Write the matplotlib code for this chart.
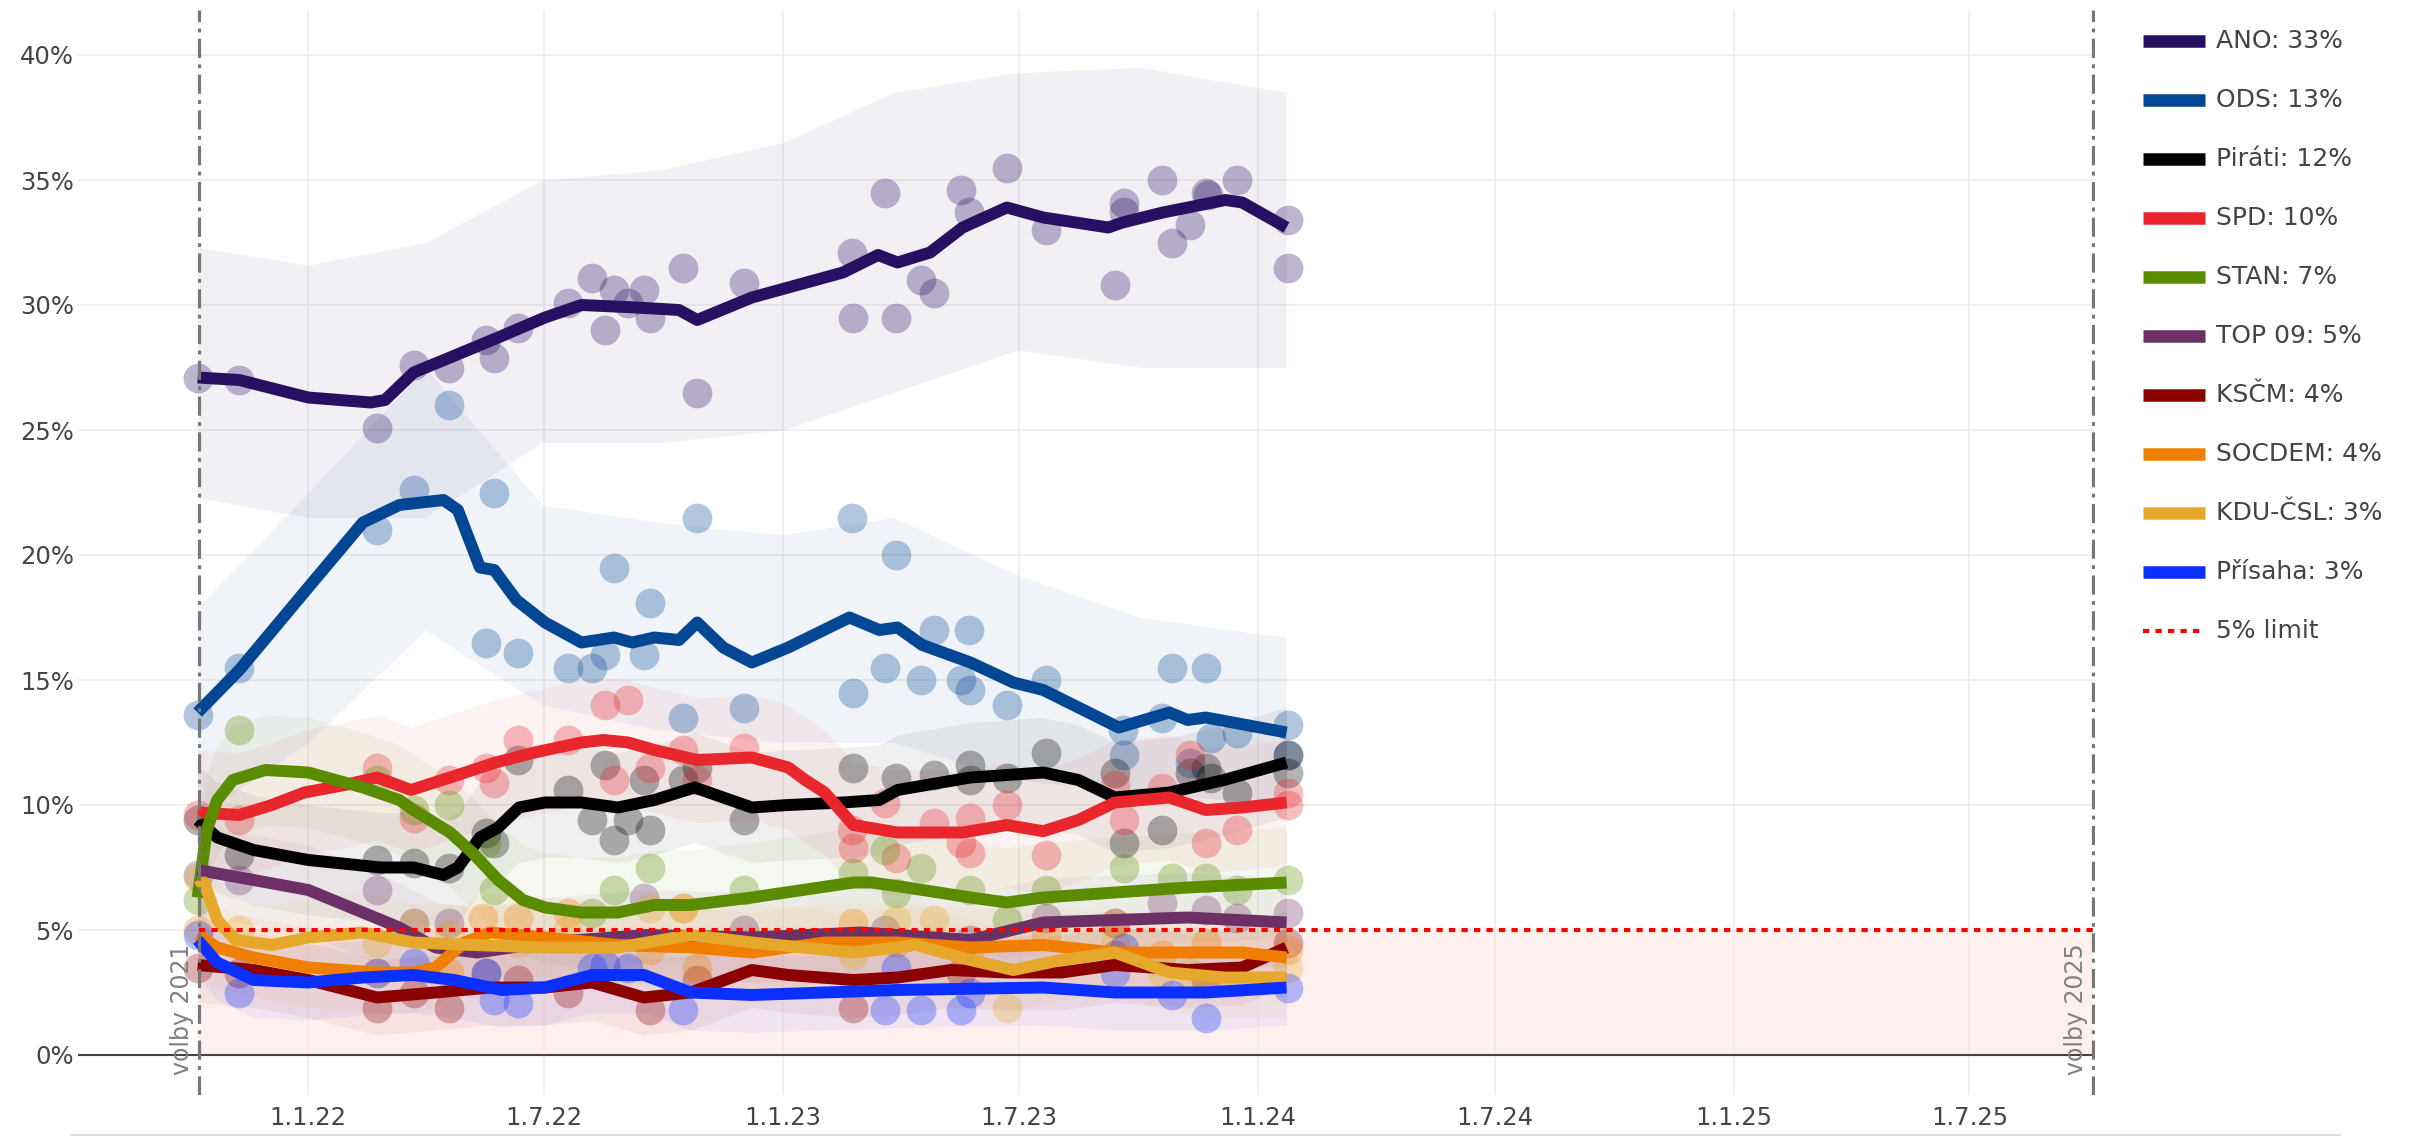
import numpy as np
import pandas as pd
import matplotlib
matplotlib.use("Agg")
import matplotlib.pyplot as plt
from matplotlib.lines import Line2D

# all x values are days since 1.1.2022
BASE = pd.Timestamp("2022-01-01")

PARTIES = ["ANO", "ODS", "Piráti", "SPD", "STAN", "TOP 09", "KSČM", "SOCDEM", "KDU-ČSL", "Přísaha"]
COLORS = ["#271061", "#034694", "#000000", "#e8262c", "#5b8c00",
          "#6c3066", "#8b0000", "#f07e00", "#e5a82a", "#0b2fff"]
LEGEND_PCT = [33, 13, 12, 10, 7, 5, 4, 4, 3, 3]

ELECTIONS = ["2021-10-09", "2025-10-04"]
ELECTION_LABELS = ["volby 2021", "volby 2025"]
TICK_DATES = ["2022-01-01", "2022-07-01", "2023-01-01", "2023-07-01",
              "2024-01-01", "2024-07-01", "2025-01-01", "2025-07-01"]
TICK_LABELS = ["1.1.22", "1.7.22", "1.1.23", "1.7.23", "1.1.24", "1.7.24", "1.1.25", "1.7.25"]
LIMIT = 5

# smoothed trend lines
ANO_T = [-85, -53, 0, 48, 59, 81, 109, 146, 182, 210, 252, 285, 299, 341, 411, 438, 453, 478,
         503, 537, 565, 615, 626, 657, 705, 718, 752]
ANO_V = [27.1, 27.0, 26.3, 26.1, 26.2, 27.3, 27.9, 28.7, 29.5, 30.0, 29.9, 29.8, 29.4, 30.3,
         31.3, 32.0, 31.7, 32.1, 33.1, 33.9, 33.5, 33.1, 33.3, 33.7, 34.2, 34.1, 33.1]
ODS_T = [-85, -53, 0, 42, 70, 104, 115, 132, 143, 160, 182, 210, 235, 249, 266, 285, 299, 319,
         341, 369, 416, 439, 453, 472, 509, 542, 565, 623, 662, 676, 690, 752]
ODS_V = [13.7, 15.4, 18.7, 21.3, 22.0, 22.2, 21.8, 19.5, 19.4, 18.2, 17.3, 16.5, 16.7, 16.5,
         16.7, 16.6, 17.3, 16.3, 15.7, 16.3, 17.5, 17.0, 17.1, 16.4, 15.7, 14.9, 14.6, 13.1,
         13.7, 13.4, 13.5, 12.9]
PIR_T = [-85, -70, -42, 0, 56, 81, 104, 115, 132, 146, 162, 182, 210, 238, 266, 297, 341, 369,
         411, 439, 453, 509, 565, 592, 620, 662, 704, 752]
PIR_V = [9.4, 8.7, 8.2, 7.8, 7.5, 7.5, 7.2, 7.5, 8.7, 9.1, 9.9, 10.1, 10.1, 9.9, 10.2, 10.7,
         9.9, 10.0, 10.1, 10.2, 10.6, 11.1, 11.3, 11.0, 10.3, 10.5, 11.0, 11.7]
SPD_T = [-85, -53, -28, -3, 28, 53, 79, 109, 144, 174, 210, 227, 246, 266, 299, 341, 369, 382,
         397, 419, 453, 503, 537, 565, 592, 620, 662, 690, 718, 752]
SPD_V = [9.7, 9.6, 10.0, 10.5, 10.8, 11.1, 10.6, 11.1, 11.7, 12.1, 12.5, 12.6, 12.5, 12.2,
         11.8, 11.9, 11.5, 11.0, 10.5, 9.2, 8.9, 8.9, 9.2, 8.95, 9.4, 10.1, 10.3, 9.8, 9.9, 10.1]
STAN_T = [-85, -78, -70, -58, -33, 0, 42, 70, 81, 109, 126, 146, 165, 182, 210, 238, 266, 294,
          341, 419, 433, 460, 509, 537, 565, 620, 676, 752]
STAN_V = [6.3, 9.0, 10.2, 11.0, 11.4, 11.3, 10.7, 10.2, 9.8, 8.9, 8.1, 7.0, 6.2, 5.9, 5.7,
          5.7, 6.0, 6.0, 6.3, 6.9, 6.9, 6.7, 6.3, 6.1, 6.3, 6.5, 6.7, 6.9]
TOP_T = [-85, -42, 0, 42, 70, 98, 130, 182, 260, 341, 425, 509, 565, 620, 676, 752]
TOP_V = [7.4, 7.0, 6.6, 5.7, 5.1, 4.3, 4.1, 4.5, 4.8, 4.7, 4.9, 4.6, 5.3, 5.4, 5.5, 5.3]
KSC_T = [-85, -42, 0, 53, 98, 140, 182, 218, 258, 294, 341, 369, 419, 453, 494, 537, 579, 620,
         676, 718, 752]
KSC_V = [3.6, 3.4, 3.0, 2.3, 2.5, 2.7, 2.7, 2.9, 2.3, 2.5, 3.4, 3.2, 3.0, 3.1, 3.4, 3.3, 3.3,
         3.6, 3.4, 3.5, 4.3]
SOC_T = [-85, -70, -42, 0, 53, 81, 98, 120, 140, 182, 238, 294, 341, 397, 453, 509, 565, 620,
         676, 718, 752]
SOC_V = [4.8, 4.3, 3.9, 3.5, 3.3, 3.3, 3.5, 4.5, 4.9, 4.7, 4.4, 4.3, 4.1, 4.5, 4.5, 4.3, 4.4,
         4.1, 4.1, 4.1, 3.9]
KDU_T = [-85, -80, -70, -56, -28, 0, 42, 81, 126, 182, 238, 294, 341, 419, 467, 509, 542, 579,
         620, 662, 704, 752]
KDU_V = [6.7, 6.9, 5.4, 4.6, 4.4, 4.7, 4.9, 4.5, 4.4, 4.3, 4.3, 4.8, 4.5, 4.1, 4.4, 3.8, 3.4,
         3.8, 4.1, 3.3, 3.1, 3.1]
PRI_T = [-85, -70, -42, 0, 42, 81, 112, 149, 182, 218, 258, 294, 341, 453, 565, 620, 690, 752]
PRI_V = [4.6, 3.7, 3.0, 2.9, 3.1, 3.2, 3.0, 2.6, 2.7, 3.2, 3.2, 2.5, 2.4, 2.6, 2.7, 2.5, 2.5, 2.7]

# uncertainty bands
BAND_T = [-85, 0, 90, 180, 270, 365, 450, 545, 640, 752]
ANO_LO = [22.3, 21.5, 21.5, 24.5, 24.5, 25.0, 26.5, 28.2, 27.5, 27.5]
ANO_HI = [32.3, 31.6, 32.5, 35.0, 35.4, 36.5, 38.5, 39.3, 39.5, 38.5]
ODS_LO = [9.5, 12.5, 17.0, 14.0, 13.0, 12.5, 12.5, 11.0, 10.5, 10.0]
ODS_HI = [17.9, 22.5, 27.5, 22.0, 21.3, 20.8, 21.5, 19.2, 17.5, 16.7]
BAND_HW = {"Piráti": 2.2, "SPD": 2.5, "STAN": 2.2, "TOP 09": 1.8, "KSČM": 1.5,
           "SOCDEM": 1.6, "KDU-ČSL": 1.6, "Přísaha": 1.5}

# individual polls
ANO_PT_T = [-85, -53, 53, 81, 108, 137, 143, 161, 200, 218, 228, 235, 246, 258, 263, 288, 299,
            335, 418, 419, 443, 452, 471, 481, 502, 508, 537, 567, 620, 627, 627, 656, 664, 678,
            690, 692, 714, 753, 753]
ANO_PT_V = [27.1, 27.0, 25.1, 27.6, 27.5, 28.6, 27.9, 29.1, 30.1, 31.1, 29.0, 30.6, 30.1, 30.6,
            29.5, 31.5, 26.5, 30.9, 32.1, 29.5, 34.5, 29.5, 31.0, 30.5, 34.6, 33.7, 35.5, 33.0,
            30.8, 34.1, 33.7, 35.0, 32.5, 33.2, 34.5, 34.4, 35.0, 33.4, 31.5]
ODS_PT_T = [-85, -53, 53, 81, 108, 137, 143, 161, 200, 218, 228, 235, 258, 263, 288, 299, 335,
            418, 419, 443, 452, 471, 481, 502, 508, 509, 537, 567, 626, 627, 656, 664, 678, 690,
            694, 714, 753, 753]
ODS_PT_V = [13.6, 15.5, 21.0, 22.6, 26.0, 16.5, 22.5, 16.1, 15.5, 15.5, 16.0, 19.5, 16.0, 18.1,
            13.5, 21.5, 13.9, 21.5, 14.5, 15.5, 20.0, 15.0, 17.0, 15.0, 17.0, 14.6, 14.0, 15.0,
            13.0, 12.0, 13.5, 15.5, 11.7, 15.5, 12.7, 12.9, 13.2, 12.0]
PIR_PT_T = [-85, -53, 53, 81, 108, 137, 143, 161, 200, 218, 228, 235, 246, 258, 263, 288, 299,
            335, 419, 452, 481, 509, 509, 537, 567, 620, 627, 656, 678, 690, 694, 714, 753, 753]
PIR_PT_V = [9.4, 8.0, 7.8, 7.7, 7.5, 8.9, 8.5, 11.8, 10.6, 9.4, 11.6, 8.6, 9.4, 11.0, 9.0, 11.0,
            11.5, 9.4, 11.5, 11.1, 11.2, 11.6, 11.0, 11.1, 12.1, 11.3, 8.5, 9.0, 11.3, 11.5,
            11.1, 10.5, 11.3, 12.0]
SPD_PT_T = [-85, -53, 53, 81, 108, 137, 143, 161, 200, 228, 235, 246, 263, 288, 299, 335, 418,
            419, 443, 452, 481, 502, 509, 509, 537, 567, 620, 627, 656, 678, 690, 714, 753, 753]
SPD_PT_V = [9.6, 9.4, 11.5, 9.5, 11.0, 11.5, 10.9, 12.6, 12.6, 14.0, 11.0, 14.2, 11.5, 12.2,
            11.0, 12.3, 9.0, 8.3, 10.1, 7.9, 9.3, 8.5, 9.5, 8.1, 10.0, 8.0, 10.8, 9.4, 10.7,
            12.0, 8.5, 9.0, 10.5, 10.0]
STAN_PT_T = [-85, -53, 53, 81, 108, 137, 143, 218, 235, 263, 335, 419, 443, 452, 471, 509, 537,
             567, 627, 664, 690, 714, 753]
STAN_PT_V = [6.2, 13.0, 11.0, 9.8, 10.0, 8.5, 6.6, 5.7, 6.6, 7.5, 6.6, 7.3, 8.2, 6.5, 7.5, 6.6,
             5.4, 6.6, 7.5, 7.1, 7.1, 6.6, 7.0]
TOP_PT_T = [-85, -53, 53, 81, 108, 137, 258, 335, 443, 509, 567, 620, 656, 690, 714, 753]
TOP_PT_V = [7.2, 7.0, 6.6, 5.3, 5.3, 3.3, 6.3, 5.0, 5.0, 4.6, 5.5, 5.3, 6.1, 5.8, 5.5, 5.7]
KSC_PT_T = [-85, -53, 53, 81, 108, 161, 200, 263, 299, 419, 502, 620, 690, 753]
KSC_PT_V = [3.5, 3.3, 1.9, 2.5, 1.9, 3.0, 2.5, 1.8, 3.0, 1.9, 3.3, 4.0, 3.0, 4.5]
SOC_PT_T = [-85, 53, 108, 134, 161, 200, 263, 288, 299, 419, 452, 509, 567, 620, 656, 690, 753]
SOC_PT_V = [5.0, 3.3, 3.3, 5.5, 5.5, 5.7, 4.2, 5.9, 3.5, 5.3, 4.5, 4.2, 4.8, 5.3, 4.0, 4.5, 4.2]
KDU_PT_T = [-85, -53, 53, 81, 108, 161, 200, 263, 288, 419, 452, 481, 537, 620, 656, 678, 694,
            714, 753]
KDU_PT_V = [7.1, 5.0, 4.5, 5.3, 4.8, 4.5, 5.0, 5.9, 5.9, 4.0, 5.4, 5.4, 1.9, 4.5, 3.3, 3.3, 3.1,
            2.9, 3.5]
PRI_PT_T = [-85, -53, 53, 81, 137, 143, 161, 218, 228, 246, 288, 443, 452, 471, 502, 509, 620,
            627, 664, 690, 753]
PRI_PT_V = [4.8, 2.5, 3.3, 3.7, 3.3, 2.2, 2.1, 3.5, 3.6, 3.5, 1.8, 1.8, 3.5, 1.8, 1.8, 2.5, 3.3,
            4.3, 2.4, 1.5, 2.7]

LINES = {
    "ANO": (ANO_T, ANO_V), "ODS": (ODS_T, ODS_V), "Piráti": (PIR_T, PIR_V),
    "SPD": (SPD_T, SPD_V), "STAN": (STAN_T, STAN_V), "TOP 09": (TOP_T, TOP_V),
    "KSČM": (KSC_T, KSC_V), "SOCDEM": (SOC_T, SOC_V), "KDU-ČSL": (KDU_T, KDU_V),
    "Přísaha": (PRI_T, PRI_V),
}
POINTS = {
    "ANO": (ANO_PT_T, ANO_PT_V), "ODS": (ODS_PT_T, ODS_PT_V), "Piráti": (PIR_PT_T, PIR_PT_V),
    "SPD": (SPD_PT_T, SPD_PT_V), "STAN": (STAN_PT_T, STAN_PT_V), "TOP 09": (TOP_PT_T, TOP_PT_V),
    "KSČM": (KSC_PT_T, KSC_PT_V), "SOCDEM": (SOC_PT_T, SOC_PT_V), "KDU-ČSL": (KDU_PT_T, KDU_PT_V),
    "Přísaha": (PRI_PT_T, PRI_PT_V),
}

W, H = 2410, 1136
TEXT = "#444444"


def days(date_str):
    return (pd.Timestamp(date_str) - BASE).days


def draw_bands(ax):
    ax.fill_between(BAND_T, ANO_LO, ANO_HI, color=COLORS[0], alpha=0.06, lw=0, zorder=1)
    ax.fill_between(BAND_T, ODS_LO, ODS_HI, color=COLORS[1], alpha=0.06, lw=0, zorder=1)
    for name, color in zip(PARTIES, COLORS):
        if name not in BAND_HW:
            continue
        t, v = LINES[name]
        v = np.array(v)
        hw = BAND_HW[name]
        ax.fill_between(t, v - hw, v + hw, color=color, alpha=0.06, lw=0, zorder=1)


def draw_legend(fig):
    x0, x1, xt = 2143 / W, 2205 / W, 2216 / W
    for i, (name, color, pct) in enumerate(zip(PARTIES, COLORS, LEGEND_PCT)):
        y = 1 - (41 + 59 * i) / H
        fig.add_artist(Line2D([x0, x1], [y, y], transform=fig.transFigure,
                              color=color, lw=9, solid_capstyle="butt"))
        fig.text(xt, y, f"{name}: {pct}%", fontsize=18, color=TEXT, va="center", ha="left")
    y = 1 - (41 + 59 * 10) / H
    fig.add_artist(Line2D([x0, x1], [y, y], transform=fig.transFigure,
                          color="red", lw=3, linestyle=(0, (1.5, 1.5))))
    fig.text(xt, y, "5% limit", fontsize=18, color=TEXT, va="center", ha="left")


def main():
    fig = plt.figure(figsize=(W / 100, H / 100), dpi=100)
    ax = fig.add_axes([78 / W, 41 / H, (2095 - 78) / W, 1085 / H])

    e0, e1 = days(ELECTIONS[0]), days(ELECTIONS[1])
    ax.set_xlim(-177, e1 + 1.5)
    ax.set_ylim(-1.6, 41.8)

    ax.set_yticks(range(0, 41, 5))
    ax.set_yticklabels([f"{v}%" for v in range(0, 41, 5)])
    ax.set_xticks([days(d) for d in TICK_DATES])
    ax.set_xticklabels(TICK_LABELS)
    ax.tick_params(axis="both", length=0, labelsize=17.5, labelcolor=TEXT)
    ax.tick_params(axis="y", pad=3)
    ax.tick_params(axis="x", pad=8)
    ax.grid(True, color="#ececec", lw=1.1, zorder=0)
    ax.set_axisbelow(True)
    for s in ax.spines.values():
        s.set_visible(False)

    # region under the 5% threshold
    ax.fill_between([e0, e1], 0, LIMIT, color="red", alpha=0.06, lw=0, zorder=0.5)
    ax.plot([-177, e1], [0, 0], color=TEXT, lw=1.5, zorder=2)

    draw_bands(ax)

    for name, color in zip(PARTIES, COLORS):
        t, v = POINTS[name]
        ax.scatter(t, v, s=460, color=color, alpha=0.3, lw=0, zorder=2)

    for name, color in zip(PARTIES, COLORS):
        t, v = LINES[name]
        ax.plot(t, v, color=color, lw=8.6, solid_joinstyle="round",
                solid_capstyle="butt", zorder=3)

    ax.plot([e0, e1], [LIMIT, LIMIT], color="red", lw=3, linestyle=(0, (1.5, 1.5)), zorder=5)

    for d, label in zip([e0, e1], ELECTION_LABELS):
        ax.axvline(d, color="#777777", lw=2.3, linestyle=(0, (6, 2, 1.2, 2)), zorder=5)
        ax.text(d - 4, -0.8, label, rotation=90, ha="right", va="bottom",
                fontsize=17, color="#808080", zorder=5)

    fig.add_artist(Line2D([71 / W, 2340 / W], [1.5 / H, 1.5 / H], transform=fig.transFigure,
                          color="#dddddd", lw=1.5))

    draw_legend(fig)
    fig.savefig("out.png", dpi=100)


if __name__ == "__main__":
    main()
